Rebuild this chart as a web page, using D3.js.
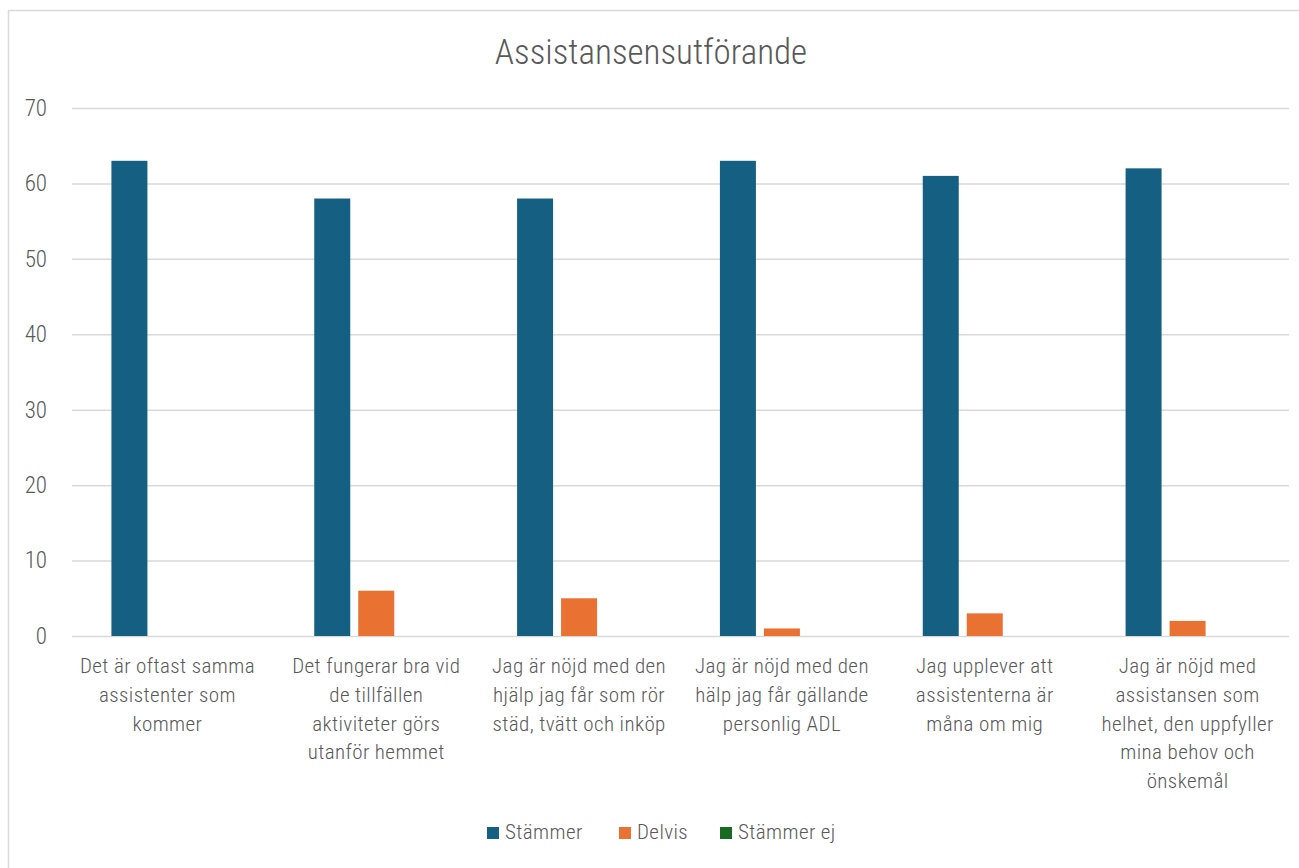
<!DOCTYPE html>
<html><head><meta charset="utf-8">
<script src="https://cdn.jsdelivr.net/npm/d3@7"></script>
<style>
html,body{margin:0;padding:0;background:#fff;}
svg text{font-family:"Liberation Sans Narrow","Arial Narrow","Roboto Condensed","Liberation Sans",sans-serif;fill:#595959;font-weight:300;}
</style></head>
<body><svg id="c" width="1299" height="868"></svg>
<script>
const title = "Assistansensutförande";
const categories = [
  ["Det är oftast samma","assistenter som","kommer"],
  ["Det fungerar bra vid","de tillfällen","aktiviteter görs","utanför hemmet"],
  ["Jag är nöjd med den","hjälp jag får som rör","städ, tvätt och inköp"],
  ["Jag är nöjd med den","hälp jag får gällande","personlig ADL"],
  ["Jag upplever att","assistenterna är","måna om mig"],
  ["Jag är nöjd med","assistansen som","helhet, den uppfyller","mina behov och","önskemål"]
];
const seriesNames = ["Stämmer","Delvis","Stämmer ej"];
const stammer = [63,58,58,63,61,62];
const delvis = [0,6,5,1,3,2];
const stammerEj = [0,0,0,0,0,0];
const colors = ["#156082","#E97132","#196B24"];
const yTicks = [0,10,20,30,40,50,60,70];

const svg = d3.select("#c");
svg.append("rect").attr("x",8.5).attr("y",10.5).attr("width",1300).attr("height",870)
  .attr("fill","none").attr("stroke","#d9d9d9").attr("stroke-width",1.5);

const pLeft=72, pRight=1289, pTop=108, pBottom=636;
const x = d3.scaleBand().domain(d3.range(categories.length)).range([pLeft,pRight]);
const y = d3.scaleLinear().domain([0,70]).range([pBottom,pTop]);
const xs = d3.scaleBand().domain(d3.range(3)).range([0,124]).paddingInner(8/44);

svg.append("text").attr("x",651).attr("y",64).attr("text-anchor","middle")
  .style("font-size","35px").text(title);

const yAxis = d3.axisLeft(y).tickValues(yTicks).tickSize(-(pRight-pLeft)).tickPadding(25);
const g = svg.append("g").attr("transform",`translate(${pLeft},0)`).call(yAxis);
g.select(".domain").remove();
g.selectAll(".tick line").attr("stroke","#d9d9d9").attr("stroke-width",1.5);
g.selectAll(".tick text").style("font-size","23px").attr("fill","#595959")
  .style("font-family","'Liberation Sans Narrow','Arial Narrow','Roboto Condensed',sans-serif")
  .style("font-weight","300");

const data = [stammer,delvis,stammerEj];
data.forEach((vals,si)=>{
  svg.append("g").selectAll("rect").data(vals).join("rect")
    .attr("x",(d,i)=>x(i)+(x.bandwidth()-124)/2+xs(si))
    .attr("width",xs.bandwidth())
    .attr("y",d=>y(d))
    .attr("height",d=>pBottom-y(d))
    .attr("fill",colors[si]);
});

const lab = svg.append("g");
categories.forEach((lines,i)=>{
  const cx = x(i)+x.bandwidth()/2 - (i===0?6:0);
  const t = lab.append("text").attr("text-anchor","middle").style("font-size","21px").style("letter-spacing","0.4px");
  lines.forEach((l,j)=>{
    t.append("tspan").attr("x",cx).attr("y",673+j*28.8).text(l);
  });
});

const legX = [487,619,720];
seriesNames.forEach((n,i)=>{
  svg.append("rect").attr("x",legX[i]).attr("y",827).attr("width",12).attr("height",12).attr("fill",colors[i]);
  svg.append("text").attr("x",legX[i]+18).attr("y",839).style("font-size","21px").style("letter-spacing","0.4px").text(n);
});
</script></body></html>
